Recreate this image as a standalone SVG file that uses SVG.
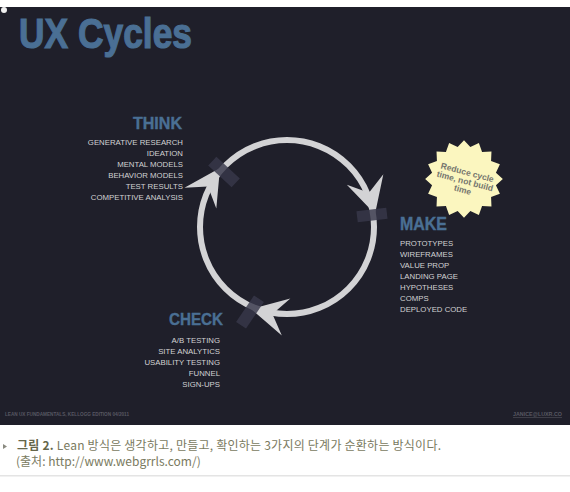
<svg xmlns="http://www.w3.org/2000/svg" width="570" height="492" viewBox="0 0 570 492">
<defs>
<style>
.head{font-family:"Liberation Sans Narrow","Liberation Sans",Arial,sans-serif;font-weight:bold;fill:#4a6f94;stroke:#4a6f94}
.item{font-family:"Liberation Sans",Arial,sans-serif;font-size:7.8px;fill:#d2d2d4}
.cap{font-family:"Noto Sans CJK KR","Liberation Sans",sans-serif;font-size:12px;fill:#7a7a60}
.foot{font-family:"Liberation Sans",Arial,sans-serif;font-size:5.5px;font-weight:bold;fill:#585862}
.tape{fill:#38384a;fill-opacity:0.82}
.arrowhead{fill:#d3d3d5}
</style>
<path id="ah" d="M0,0 L-36,-19 L-22,0 L-36,19 Z"/>
</defs>
<rect x="0" y="0" width="570" height="492" fill="#ffffff"/>
<rect x="0" y="7" width="570" height="418" fill="#1f1f2a"/>
<circle cx="4" cy="10" r="3" fill="#f0f0f0"/>

<g id="title"><text class="head" x="19" y="48" font-size="43" stroke-width="1.2" textLength="173" lengthAdjust="spacingAndGlyphs">UX Cycles</text></g>

<g id="connectors">
<circle cx="287" cy="227" r="87" fill="none" stroke="#d3d3d5" stroke-width="6"/>
<use href="#ah" class="arrowhead" transform="translate(220,168) rotate(-57)"/>
<use href="#ah" class="arrowhead" transform="translate(375,214) rotate(74)"/>
<use href="#ah" class="arrowhead" transform="translate(251,309) rotate(193)"/>
<rect class="tape" x="-16" y="-6" width="32" height="12" transform="translate(224,172) rotate(43)"/>
<rect class="tape" x="-15" y="-5.5" width="30" height="11" transform="translate(372,215) rotate(-7)"/>
<rect class="tape" x="-16" y="-6" width="32" height="12" transform="translate(250,312) rotate(-56)"/>
</g>

<g id="think">
<text class="head" x="182" y="129" font-size="17" stroke-width="0.4" text-anchor="end" textLength="49" lengthAdjust="spacingAndGlyphs">THINK</text>
<g class="item" text-anchor="end">
<text x="183" y="145">GENERATIVE RESEARCH</text>
<text x="183" y="156">IDEATION</text>
<text x="183" y="167">MENTAL MODELS</text>
<text x="183" y="178">BEHAVIOR MODELS</text>
<text x="183" y="189">TEST RESULTS</text>
<text x="183" y="200">COMPETITIVE ANALYSIS</text>
</g>
</g>

<g id="make">
<text class="head" x="400" y="230" font-size="18" stroke-width="0.4" textLength="47" lengthAdjust="spacingAndGlyphs">MAKE</text>
<g class="item">
<text x="400" y="246">PROTOTYPES</text>
<text x="400" y="257">WIREFRAMES</text>
<text x="400" y="268">VALUE PROP</text>
<text x="400" y="279">LANDING PAGE</text>
<text x="400" y="290">HYPOTHESES</text>
<text x="400" y="301">COMPS</text>
<text x="400" y="312">DEPLOYED CODE</text>
</g>
</g>

<g id="check">
<text class="head" x="223" y="325" font-size="17" stroke-width="0.4" text-anchor="end" textLength="54" lengthAdjust="spacingAndGlyphs">CHECK</text>
<g class="item" text-anchor="end">
<text x="220" y="343">A/B TESTING</text>
<text x="220" y="354">SITE ANALYTICS</text>
<text x="220" y="365">USABILITY TESTING</text>
<text x="220" y="376">FUNNEL</text>
<text x="220" y="387">SIGN-UPS</text>
</g>
</g>

<g id="badge">
<polygon fill="#fbf6bf" transform="translate(464 179) scale(1.05) translate(-464 -179)" points="464,142 470.05,148.6 478.16,144.82 481.22,153.22 490.16,152.84 489.78,161.78 498.18,164.84 494.4,172.95 501,179 494.4,185.05 498.18,193.16 489.78,196.22 490.16,205.16 481.22,204.78 478.16,213.18 470.05,209.4 464,216 457.95,209.4 449.84,213.18 446.78,204.78 437.84,205.16 438.22,196.22 429.82,193.16 433.6,185.05 427,179 433.6,172.95 429.82,164.84 438.22,161.78 437.84,152.84 446.78,153.22 449.84,144.82 457.95,148.6"/>
<g transform="rotate(15 465 181)" font-family="Liberation Sans Narrow, Liberation Sans, Arial, sans-serif" font-weight="bold" font-size="8.5" fill="#75756e" text-anchor="middle">
<text x="465" y="175">Reduce cycle</text>
<text x="465" y="184">time, not build</text>
<text x="465" y="193">time</text>
</g>
</g>

<g id="footer">
<text class="foot" x="5" y="416" textLength="124" lengthAdjust="spacingAndGlyphs">LEAN UX FUNDAMENTALS, KELLOGG EDITION   04/2011</text>
<text class="foot" x="513" y="416" textLength="49" lengthAdjust="spacingAndGlyphs" font-weight="normal" text-decoration="underline">JANICE@LUXR.CO</text>
</g>

<g id="caption">
<polygon points="3,444 7,446.5 3,449" fill="#8a8a80"/>
<text class="cap" x="17" y="450" textLength="424"><tspan font-weight="bold" fill="#66664a">그림 2.</tspan> Lean 방식은 생각하고, 만들고, 확인하는 3가지의 단계가 순환하는 방식이다.</text>
<text class="cap" x="16" y="466">(출처: http://www.webgrrls.com/)</text>
<rect x="0" y="475" width="570" height="1.5" fill="#e4e4e4"/>
</g>
</svg>
